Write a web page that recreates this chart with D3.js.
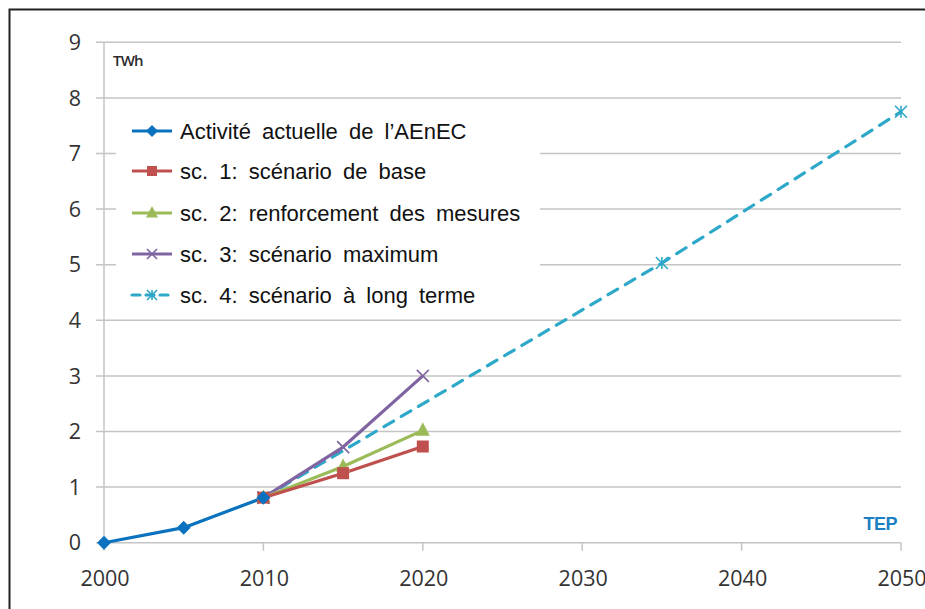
<!DOCTYPE html>
<html>
<head>
<meta charset="utf-8">
<script src="https://cdn.jsdelivr.net/npm/d3@7/dist/d3.min.js"></script>
<style>
  html, body { margin: 0; padding: 0; background: #fff; }
  svg { display: block; }
  .tick-label { font-family: "Open Sans", sans-serif; font-size: 21.5px; fill: #333; }
  .legend-label { font-family: "Liberation Sans", Arial, sans-serif; font-size: 22px; fill: #111; word-spacing: 5px; }
</style>
</head>
<body>
<div id="chart"></div>
<script>
const years = [2000, 2010, 2020, 2030, 2040, 2050];
const yTicks = [0, 1, 2, 3, 4, 5, 6, 7, 8, 9];

const activiteYears = [2000, 2005, 2010];
const activiteValues = [0, 0.27, 0.81];
const sc1Years = [2010, 2015, 2020];
const sc1Values = [0.81, 1.25, 1.73];
const sc2Years = [2010, 2015, 2020];
const sc2Values = [0.81, 1.37, 2.02];
const sc3Years = [2010, 2015, 2020];
const sc3Values = [0.81, 1.72, 3.0];
const sc4Years = [2010, 2035, 2050];
const sc4Values = [0.81, 5.03, 7.75];

const seriesNames = [
  "Activité actuelle de l’AEnEC",
  "sc. 1: scénario de base",
  "sc. 2: renforcement des mesures",
  "sc. 3: scénario maximum",
  "sc. 4: scénario à long terme"
];

const width = 925, height = 609;
const x0 = 104, x1 = 901, yBottom = 542.7, yTop = 42.3;

const x = d3.scaleLinear().domain([2000, 2050]).range([x0, x1]);
const y = d3.scaleLinear().domain([0, 9]).range([yBottom, yTop]);

const series = [
  { name: seriesNames[0], xs: activiteYears, vs: activiteValues, color: "#0a72be", marker: "diamond", dash: null },
  { name: seriesNames[1], xs: sc1Years, vs: sc1Values, color: "#c0504d", marker: "square", dash: null },
  { name: seriesNames[2], xs: sc2Years, vs: sc2Values, color: "#9bbb59", marker: "triangle", dash: null },
  { name: seriesNames[3], xs: sc3Years, vs: sc3Values, color: "#8064a2", marker: "x", dash: null },
  { name: seriesNames[4], xs: sc4Years, vs: sc4Values, color: "#2ea8c8", marker: "star", dash: "11,9" }
];

const svg = d3.select("#chart").append("svg")
  .attr("width", width).attr("height", height);

// outer frame (runs off the page on right and bottom)
svg.append("rect")
  .attr("x", 9.5).attr("y", 9.5).attr("width", 960).attr("height", 660)
  .attr("fill", "none").attr("stroke", "#222").attr("stroke-width", 2);

// horizontal gridlines
svg.append("g").selectAll("line")
  .data(yTicks)
  .join("line")
  .attr("x1", x0 - 8).attr("x2", x1)
  .attr("y1", d => y(d)).attr("y2", d => y(d))
  .attr("stroke", "#c4c4c4").attr("stroke-width", 1.5);

// y axis line
svg.append("line")
  .attr("x1", x0).attr("x2", x0).attr("y1", yTop).attr("y2", yBottom)
  .attr("stroke", "#c4c4c4").attr("stroke-width", 1.5);

// x tick marks
svg.append("g").selectAll("line")
  .data(years)
  .join("line")
  .attr("x1", d => x(d)).attr("x2", d => x(d))
  .attr("y1", yBottom).attr("y2", yBottom + 8)
  .attr("stroke", "#c4c4c4").attr("stroke-width", 1.5);

// tick labels
svg.append("g").selectAll("text")
  .data(yTicks)
  .join("text")
  .attr("class", "tick-label")
  .attr("x", 81).attr("y", d => y(d))
  .attr("dy", "0.36em")
  .attr("text-anchor", "end")
  .text(d => d);

svg.append("g").selectAll("text")
  .data(years)
  .join("text")
  .attr("class", "tick-label")
  .attr("x", d => x(d) + 1).attr("y", 578)
  .attr("dy", "0.36em")
  .attr("text-anchor", "middle")
  .text(d => d);

svg.append("text")
  .attr("x", 113).attr("y", 66)
  .attr("font-family", "Open Sans, sans-serif").attr("font-size", 15)
  .attr("font-weight", 600)
  .attr("fill", "#2a2a2a").attr("letter-spacing", -0.8)
  .text("TWh");

// legend box (white, covers gridlines)
svg.append("rect")
  .attr("x", 116).attr("y", 104).attr("width", 424).attr("height", 210)
  .attr("fill", "#fff");

function drawMarker(g, type, color, cx, cy, s) {
  if (type === "diamond") {
    g.append("path").attr("d", `M${cx},${cy - s}L${cx + s},${cy}L${cx},${cy + s}L${cx - s},${cy}Z`).attr("fill", color);
  } else if (type === "square") {
    g.append("rect").attr("x", cx - s).attr("y", cy - s).attr("width", 2 * s).attr("height", 2 * s).attr("fill", color);
  } else if (type === "triangle") {
    g.append("path").attr("d", `M${cx},${cy - s * 1.15}L${cx + s},${cy + s * 0.75}L${cx - s},${cy + s * 0.75}Z`).attr("fill", color);
  } else if (type === "x") {
    g.append("path").attr("d", `M${cx - s},${cy - s}L${cx + s},${cy + s}M${cx - s},${cy + s}L${cx + s},${cy - s}`)
      .attr("stroke", color).attr("stroke-width", 1.6);
  } else if (type === "star") {
    g.append("path").attr("d", `M${cx - s},${cy - s}L${cx + s},${cy + s}M${cx - s},${cy + s}L${cx + s},${cy - s}M${cx},${cy - s}L${cx},${cy + s}`)
      .attr("stroke", color).attr("stroke-width", 1.6);
  }
}

const line = d3.line().x(d => x(d[0])).y(d => y(d[1]));
const markerSize = { diamond: 7, square: 6, triangle: 7, x: 6, star: 6 };

const plot = svg.append("g");
[4, 3, 2, 1, 0].forEach(i => {
  const s = series[i];
  const pts = s.xs.map((yr, j) => [yr, s.vs[j]]);
  plot.append("path")
    .attr("d", line(pts))
    .attr("fill", "none")
    .attr("stroke", s.color)
    .attr("stroke-width", 3.2)
    .attr("stroke-linecap", s.dash ? "round" : "butt")
    .attr("stroke-linejoin", "round")
    .attr("stroke-dasharray", s.dash);
});
[4, 3, 2, 1, 0].forEach(i => {
  const s = series[i];
  s.xs.forEach((yr, j) => drawMarker(plot, s.marker, s.color, x(yr), y(s.vs[j]), markerSize[s.marker]));
});

// legend entries
const legendY = [131, 171, 213, 254, 295];
const lg = svg.append("g");
series.forEach((s, i) => {
  const ly = legendY[i];
  lg.append("line")
    .attr("x1", 132).attr("x2", 172).attr("y1", ly).attr("y2", ly)
    .attr("stroke", s.color).attr("stroke-width", 3.2)
    .attr("stroke-dasharray", s.dash ? "8,6" : null)
    .attr("stroke-linecap", s.dash ? "round" : "butt");
  drawMarker(lg, s.marker, s.color, 152, ly, markerSize[s.marker] - 1);
  lg.append("text")
    .attr("class", "legend-label")
    .attr("x", 180).attr("y", ly)
    .attr("dy", "0.35em")
    .text(s.name);
});

// TEP mark
svg.append("text")
  .attr("x", 897).attr("y", 530)
  .attr("text-anchor", "end")
  .attr("font-family", "Liberation Sans, Arial, sans-serif")
  .attr("font-weight", "bold").attr("font-size", 18)
  .attr("fill", "#1b7fc4").attr("letter-spacing", -0.5)
  .text("TEP");
</script>
</body>
</html>
